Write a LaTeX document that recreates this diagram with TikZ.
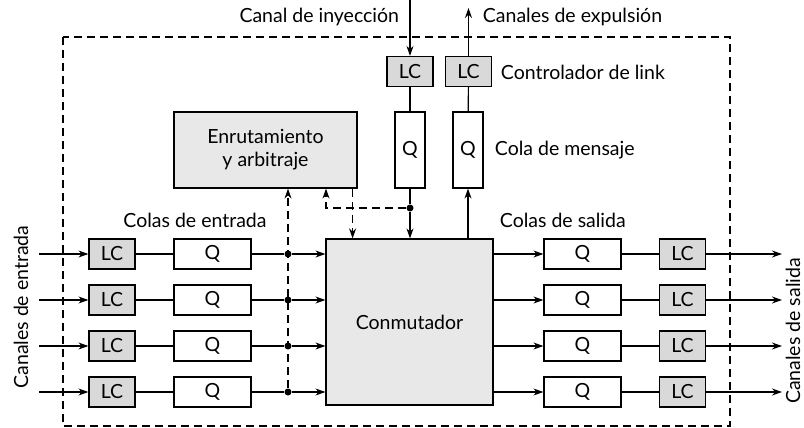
\documentclass[tikz,border=0pt]{standalone}
\usepackage{fontspec}
\setmainfont{Lato}
\usetikzlibrary{arrows.meta,calc,positioning}

\begin{document}
\begin{tikzpicture}[x=1pt,y=-1pt,
  every node/.style={font=\fontsize{19.5}{23}\selectfont},
  box/.style={draw,line width=1.2pt,inner sep=0pt},
  lcbox/.style={box,fill=gray!30,minimum width=46pt,minimum height=30pt},
  qbox/.style={box,fill=white,minimum width=77pt,minimum height=30pt},
  qtall/.style={box,fill=white,minimum width=30pt,minimum height=76pt},
  bigbox/.style={box,fill=gray!18,align=center},
  dot/.style={circle,fill,inner sep=0pt,minimum size=7pt},
  arr/.style={-{Stealth[length=10pt,width=7pt]}},
  dsh/.style={dash pattern=on 8pt off 5pt},
  sidelabel/.style={rotate=90,anchor=base,inner sep=0pt},
  line width=1.2pt]
  \useasboundingbox (0,0) rectangle (804,428);

  % router boundary
  \draw[dsh] (63,37) rectangle (730,426);

  % switch and routing unit
  \node[bigbox,minimum width=167pt,minimum height=166pt] (conm) at (409.5,322) {Conmutador};
  \node[bigbox,minimum width=183pt,minimum height=76pt] (enr) at (265.5,150) {Enrutamiento\\y arbitraje};

  % input and output channels
  \foreach \i in {1,...,4} {
    \pgfmathsetmacro{\yy}{208+46*\i}
    \coordinate (inA\i) at (39,\yy);
    \node[lcbox] (lcin\i) at (112,\yy) {LC};
    \node[qbox] (qin\i) at (212.5,\yy) {Q};
    \node[dot] (din\i) at (288,\yy) {};
    \node[qbox] (qout\i) at (582.5,\yy) {Q};
    \node[lcbox] (lcout\i) at (682.5,\yy) {LC};
    \coordinate (outA\i) at (782,\yy);
    \draw[arr] (inA\i) -- (lcin\i);
    \draw (lcin\i) -- (qin\i);
    \draw (qin\i) -- (din\i);
    \draw[arr] (din\i) -- (conm.west |- din\i);
    \draw[arr] (conm.east |- qout\i) -- (qout\i);
    \draw (qout\i) -- (lcout\i);
    \draw[arr] (lcout\i) -- (outA\i);
  }

  % injection / ejection channels
  \node[lcbox] (lcinj) at (410,71.5) {LC};
  \node[lcbox] (lcexp) at (468.5,71.5) {LC};
  \node[qtall] (qinj) at (410,150) {Q};
  \node[qtall] (qexp) at (468,150) {Q};
  \node[dot] (dinj) at (410,208) {};
  \coordinate (inj) at (410,0);
  \coordinate (expl) at (468.5,8);
  \draw[arr] (inj) -- (lcinj);
  \draw[arr] (lcexp) -- (expl);
  \draw (lcinj) -- (qinj);
  \draw (lcexp) -- (qexp);
  \draw (qinj) -- (dinj);
  \draw[arr] (dinj) -- (conm.north -| dinj);
  \draw[arr] (conm.north -| qexp) -- (qexp);

  % routing requests
  \coordinate (rq) at (326,208);
  \draw[dsh,arr] (din4) -- (din4 |- enr.south);
  \draw[dsh,arr] (dinj) -- (rq) -- (rq |- enr.south);
  \draw[dsh,arr] ([xshift=-5pt]enr.south east) -- ([xshift=-5pt]enr.south east |- conm.north);

  % labels
  \node[anchor=east] (tinj) at (403,17) {Canal de inyección};
  \node[anchor=west] (texp) at (479,17) {Canales de expulsión};
  \node[anchor=west] (tlink) at (497,72) {Controlador de link};
  \node[anchor=west] (tmsg) at (491,150) {Cola de mensaje};
  \node (tcin) at (195,220) {Colas de entrada};
  \node[anchor=west] (tcout) at (496,220) {Colas de salida};
  \node[sidelabel] (tchin) at (28,307) {Canales de entrada};
  \node[sidelabel] (tchout) at (800,331) {Canales de salida};
\end{tikzpicture}
\end{document}
